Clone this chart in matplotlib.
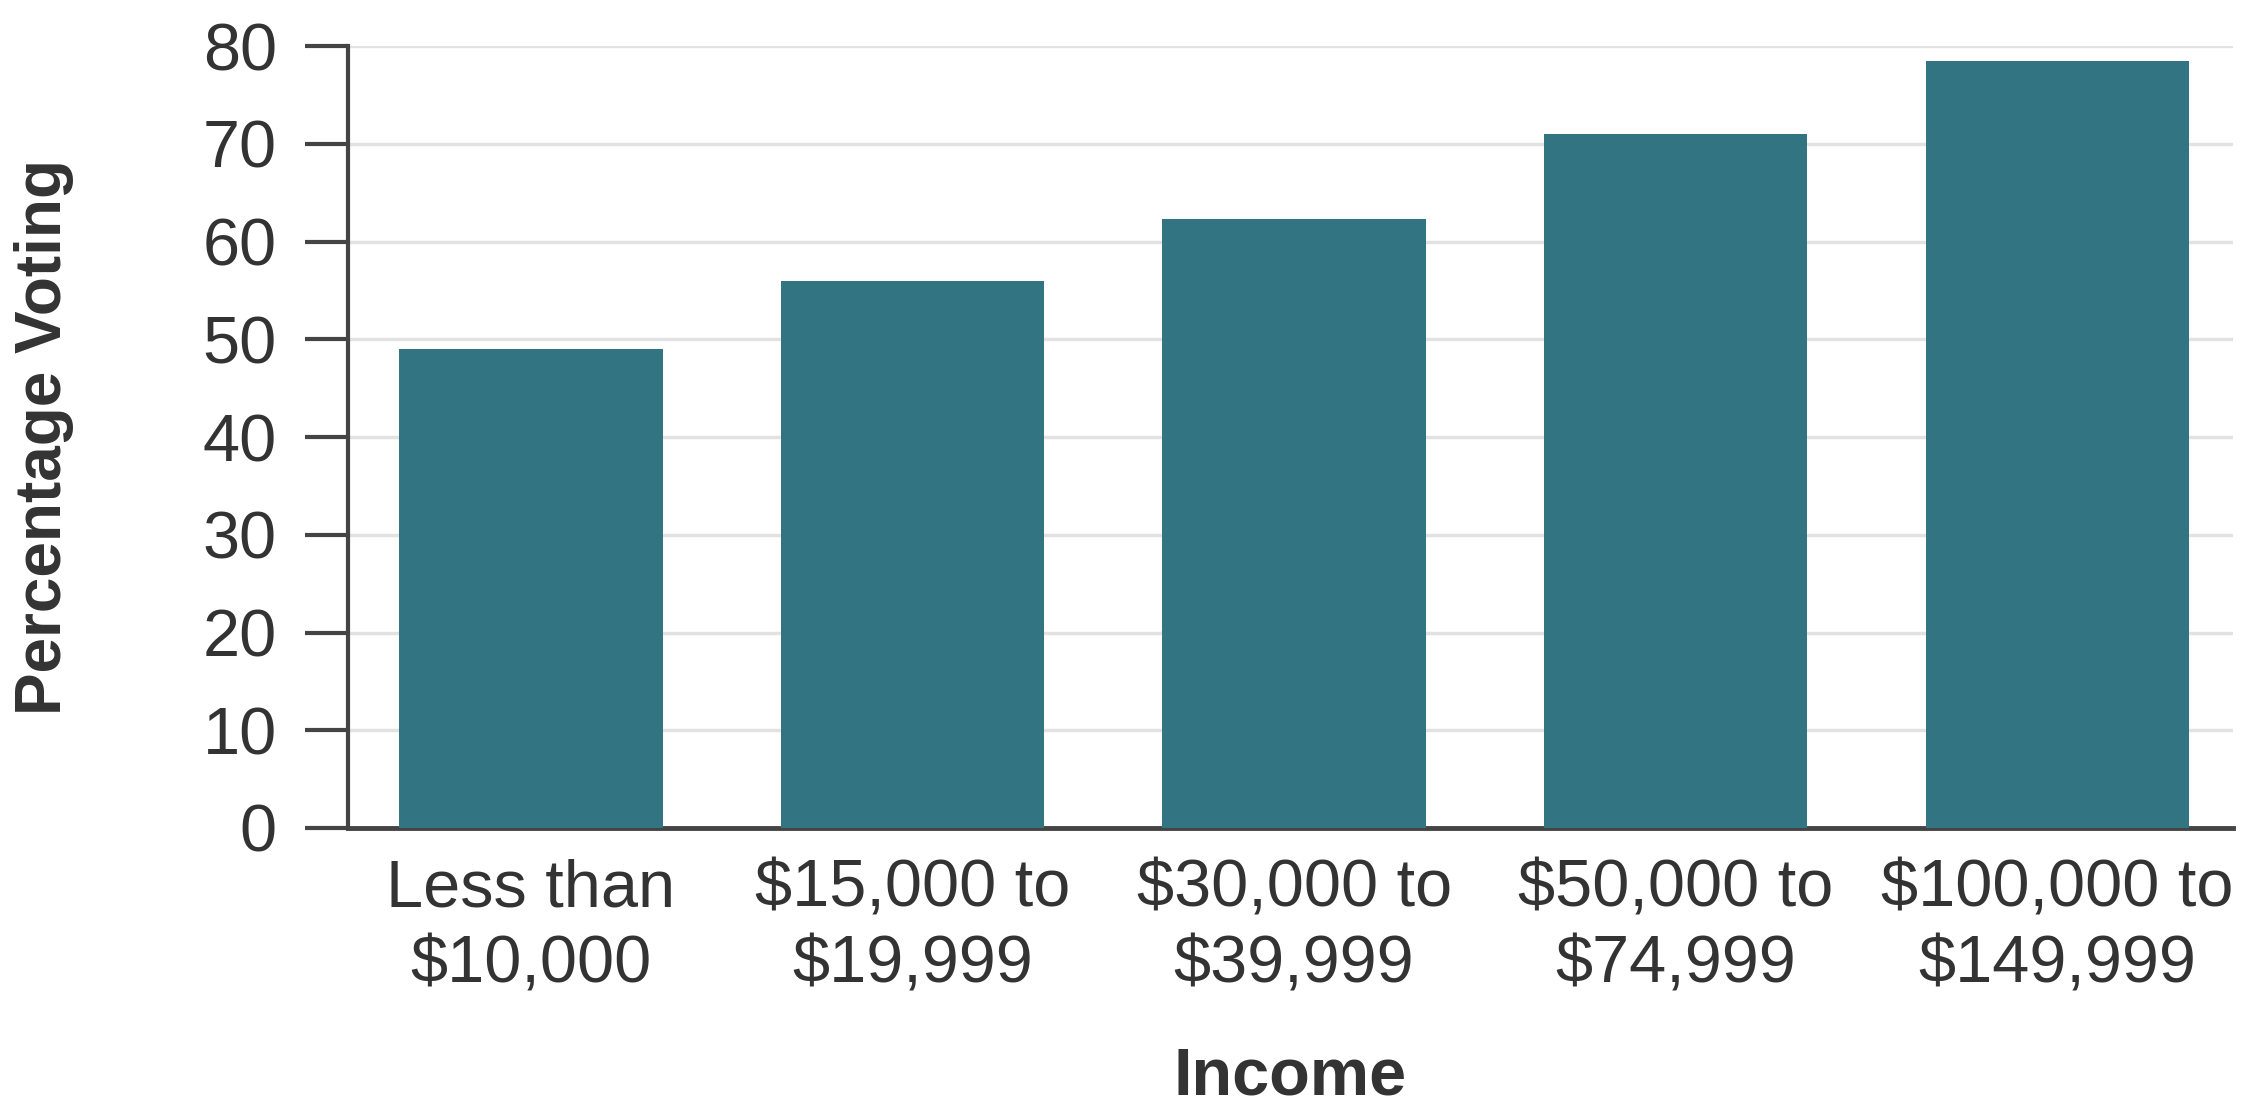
import matplotlib
matplotlib.use("Agg")
import matplotlib.pyplot as plt

# data
income_labels = ["Less than\n$10,000", "$15,000 to\n$19,999", "$30,000 to\n$39,999",
                 "$50,000 to\n$74,999", "$100,000 to\n$149,999"]
pct_voting = [49.0, 56.0, 62.3, 71.0, 78.5]
y_ticks = [0, 10, 20, 30, 40, 50, 60, 70, 80]

plt.rcParams['font.family'] = ['Liberation Sans', 'DejaVu Sans']

fig = plt.figure(figsize=(22.52, 11.15), dpi=100)
ax = fig.add_axes([0.1544, 0.2574, 0.8371, 0.7013])

x = list(range(len(income_labels)))
ax.bar(x, pct_voting, width=0.69, color="#337482", zorder=3)

ax.set_xlim(-0.48, 4.46)
ax.set_ylim(0, 80)
ax.set_yticks(y_ticks)
ax.set_xticks(x)
ax.set_xticklabels(income_labels, linespacing=1.3)

ax.grid(axis='y', color="#e2e2e2", linewidth=2.5, zorder=0)
ax.set_axisbelow(True)

for s in ['top', 'right']:
    ax.spines[s].set_visible(False)
ax.spines['left'].set_color("#444444")
ax.spines['left'].set_linewidth(3)
ax.spines['bottom'].set_color("#444444")
ax.spines['bottom'].set_linewidth(3.5)

ax.tick_params(axis='y', length=31, width=3, color="#444444", pad=20,
               labelsize=48, labelcolor="#333333")
ax.tick_params(axis='x', length=0, pad=22, labelsize=48, labelcolor="#333333")

ax.set_ylabel("Percentage Voting", fontsize=46, fontweight='bold', color="#333333")
ax.set_xlabel("Income", fontsize=48, fontweight='bold', color="#333333", labelpad=36)
ax.yaxis.set_label_coords(-0.145, 0.5)

fig.savefig("out.png", dpi=100)
